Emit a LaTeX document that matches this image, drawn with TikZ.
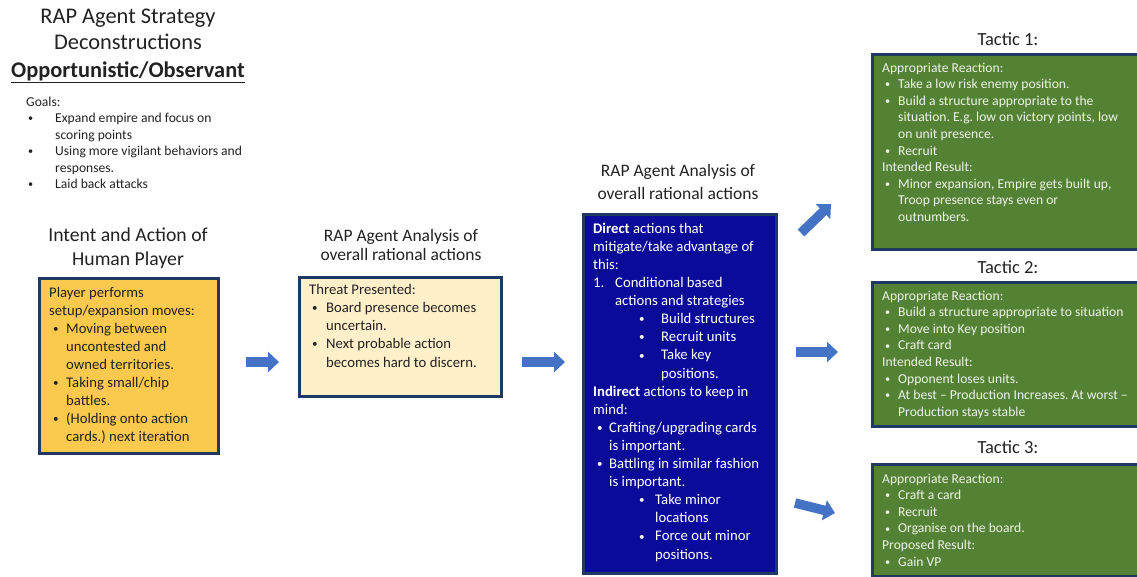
\documentclass[tikz,border=0pt]{standalone}
\usepackage{fontspec}
\usepackage{graphicx}
\setmainfont{Carlito}
\frenchspacing
\usetikzlibrary{arrows.meta}
\definecolor{navy}{HTML}{1F3864}
\definecolor{gold}{HTML}{FBC94E}
\definecolor{cream}{HTML}{FFF0C9}
\definecolor{deepblue}{HTML}{0B0B9A}
\definecolor{tgreen}{HTML}{548235}
\definecolor{arrowblue}{HTML}{4472C4}
\definecolor{ink}{HTML}{222222}
\definecolor{paletext}{HTML}{EEF3E8}
\newcommand{\smallbul}{\raisebox{0.12ex}{\scalebox{0.75}{\textbullet}}}
\newcommand{\itm}[2]{\hspace*{#1}\rlap{\smallbul}\hspace*{#2}}
\newcommand{\cnt}[1]{\hspace*{#1}}
\tikzset{
  box/.style={draw=navy, line width=2.6pt, anchor=north west, inner sep=0pt},
  body/.style={anchor=base west, inner sep=0pt, align=left},
  heading/.style={anchor=base, inner sep=0pt, align=center, text=ink},
  blockarrow/.style={draw=arrowblue, line width=9.5pt, -{Triangle[width=20pt,length=11pt]}}
}
\begin{document}
\begin{tikzpicture}[x=1pt,y=-1pt]
\useasboundingbox (0,0) rectangle (1137,576);
\clip (0,0) rectangle (1137,576);

% Title and goals (body nodes are anchored at the baseline of their last line)
\node[heading, font=\fontsize{22.4}{27}\selectfont] (title1) at (128,23.5) {RAP Agent Strategy};
\node[heading, font=\fontsize{22.4}{27}\selectfont] (title2) at (128,49.5) {Deconstructions};
\node[heading, font=\fontsize{22.4}{27}\selectfont\bfseries] (title3) at (128,77) {\underline{Opportunistic/Observant}};
\node[body, text=ink, font=\fontsize{13.6}{16.5}\selectfont] (goals) at (26,188.5) {Goals:\\
\itm{2pt}{27pt}Expand empire and focus on\\
\cnt{29pt}scoring points\\
\itm{2pt}{27pt}Using more vigilant behaviors and\\
\cnt{29pt}responses.\\
\itm{2pt}{27pt}Laid back attacks};

% Human player
\node[heading, font=\fontsize{19.7}{24}\selectfont] (htitle1) at (128,241) {Intent and Action of};
\node[heading, font=\fontsize{19.7}{24}\selectfont] (htitle2) at (128,265) {Human Player};
\node[box, fill=gold, minimum width=179pt, minimum height=175pt] (human) at (38,277) {};
\node[body, text=ink, font=\fontsize{14.7}{18}\selectfont] (humantext) at (49,441) {Player performs\\
setup/expansion moves:\\
\itm{4pt}{13pt}Moving between\\
\cnt{17pt}uncontested and\\
\cnt{17pt}owned territories.\\
\itm{4pt}{13pt}Taking small/chip\\
\cnt{17pt}battles.\\
\itm{4pt}{13pt}(Holding onto action\\
\cnt{17pt}cards.) next iteration};

% Threat box
\node[heading, font=\fontsize{17.5}{21}\selectfont] (ttitle1) at (401,241) {RAP Agent Analysis of};
\node[heading, font=\fontsize{17.5}{21}\selectfont] (ttitle2) at (401,260) {overall rational actions};
\node[box, fill=cream, minimum width=202pt, minimum height=119pt] (threat) at (298,276) {};
\node[body, text=ink, font=\fontsize{14.7}{18.2}\selectfont] (threattext) at (309,367) {Threat Presented:\\
\itm{3pt}{14pt}Board presence becomes\\
\cnt{17pt}uncertain.\\
\itm{3pt}{14pt}Next probable action\\
\cnt{17pt}becomes hard to discern.};

% Analysis box
\node[heading, font=\fontsize{17.5}{21}\selectfont] (atitle1) at (678,176) {RAP Agent Analysis of};
\node[heading, font=\fontsize{17.5}{21}\selectfont] (atitle2) at (678,199) {overall rational actions};
\node[box, fill=deepblue, minimum width=193pt, minimum height=359pt] (analysis) at (582,213) {};
\node[body, text=white, font=\fontsize{14.7}{18.1}\selectfont] (analysistext) at (593,559) {\textbf{Direct} actions that\\
mitigate/take advantage of\\
this:\\
\rlap{1.}\hspace*{22pt}Conditional based\\
\cnt{22pt}actions and strategies\\
\itm{46pt}{22pt}Build structures\\
\itm{46pt}{22pt}Recruit units\\
\itm{46pt}{22pt}Take key\\
\cnt{68pt}positions.\\
\textbf{Indirect} actions to keep in\\
mind:\\
\itm{4pt}{12pt}Crafting/upgrading cards\\
\cnt{16pt}is important.\\
\itm{4pt}{12pt}Battling in similar fashion\\
\cnt{16pt}is important.\\
\itm{46pt}{16pt}Take minor\\
\cnt{62pt}locations\\
\itm{46pt}{16pt}Force out minor\\
\cnt{62pt}positions.};

% Tactics
\node[heading, font=\fontsize{18.5}{22}\selectfont] (tac1title) at (1008,45) {Tactic 1:};
\node[box, fill=tgreen, minimum width=275pt, minimum height=195pt] (tac1) at (871,53) {};
\node[body, text=paletext, font=\fontsize{13.6}{16.6}\selectfont] (tac1text) at (882,221.4) {Appropriate Reaction:\\
\itm{3pt}{13pt}Take a low risk enemy position.\\
\itm{3pt}{13pt}Build a structure appropriate to the\\
\cnt{16pt}situation. E.g. low on victory points, low\\
\cnt{16pt}on unit presence.\\
\itm{3pt}{13pt}Recruit\\
Intended Result:\\
\itm{3pt}{13pt}Minor expansion, Empire gets built up,\\
\cnt{16pt}Troop presence stays even or\\
\cnt{16pt}outnumbers.};

\node[heading, font=\fontsize{18.5}{22}\selectfont] (tac2title) at (1008,273) {Tactic 2:};
\node[box, fill=tgreen, minimum width=275pt, minimum height=144pt] (tac2) at (871,281) {};
\node[body, text=paletext, font=\fontsize{13.6}{16.6}\selectfont] (tac2text) at (882,416.2) {Appropriate Reaction:\\
\itm{3pt}{13pt}Build a structure appropriate to situation\\
\itm{3pt}{13pt}Move into Key position\\
\itm{3pt}{13pt}Craft card\\
Intended Result:\\
\itm{3pt}{13pt}Opponent loses units.\\
\itm{3pt}{13pt}At best -- Production Increases. At worst --\\
\cnt{16pt}Production stays stable};

\node[heading, font=\fontsize{18.5}{22}\selectfont] (tac3title) at (1008,453) {Tactic 3:};
\node[box, fill=tgreen, minimum width=275pt, minimum height=112pt] (tac3) at (871,463) {};
\node[body, text=paletext, font=\fontsize{13.6}{16.6}\selectfont] (tac3text) at (882,566) {Appropriate Reaction:\\
\itm{3pt}{13pt}Craft a card\\
\itm{3pt}{13pt}Recruit\\
\itm{3pt}{13pt}Organise on the board.\\
Proposed Result:\\
\itm{3pt}{13pt}Gain VP};

% Block arrows
\coordinate (a1s) at (246,362); \coordinate (a1e) at (279,362);
\coordinate (a2s) at (522,362); \coordinate (a2e) at (565,362);
\coordinate (a3s) at (801,233); \coordinate (a3e) at (831,204);
\coordinate (a4s) at (796,352); \coordinate (a4e) at (838,352);
\coordinate (a5s) at (795,503); \coordinate (a5e) at (835,513);
\draw[blockarrow] (a1s) -- (a1e);
\draw[blockarrow] (a2s) -- (a2e);
\draw[blockarrow] (a3s) -- (a3e);
\draw[blockarrow] (a4s) -- (a4e);
\draw[blockarrow] (a5s) -- (a5e);
\end{tikzpicture}
\end{document}
